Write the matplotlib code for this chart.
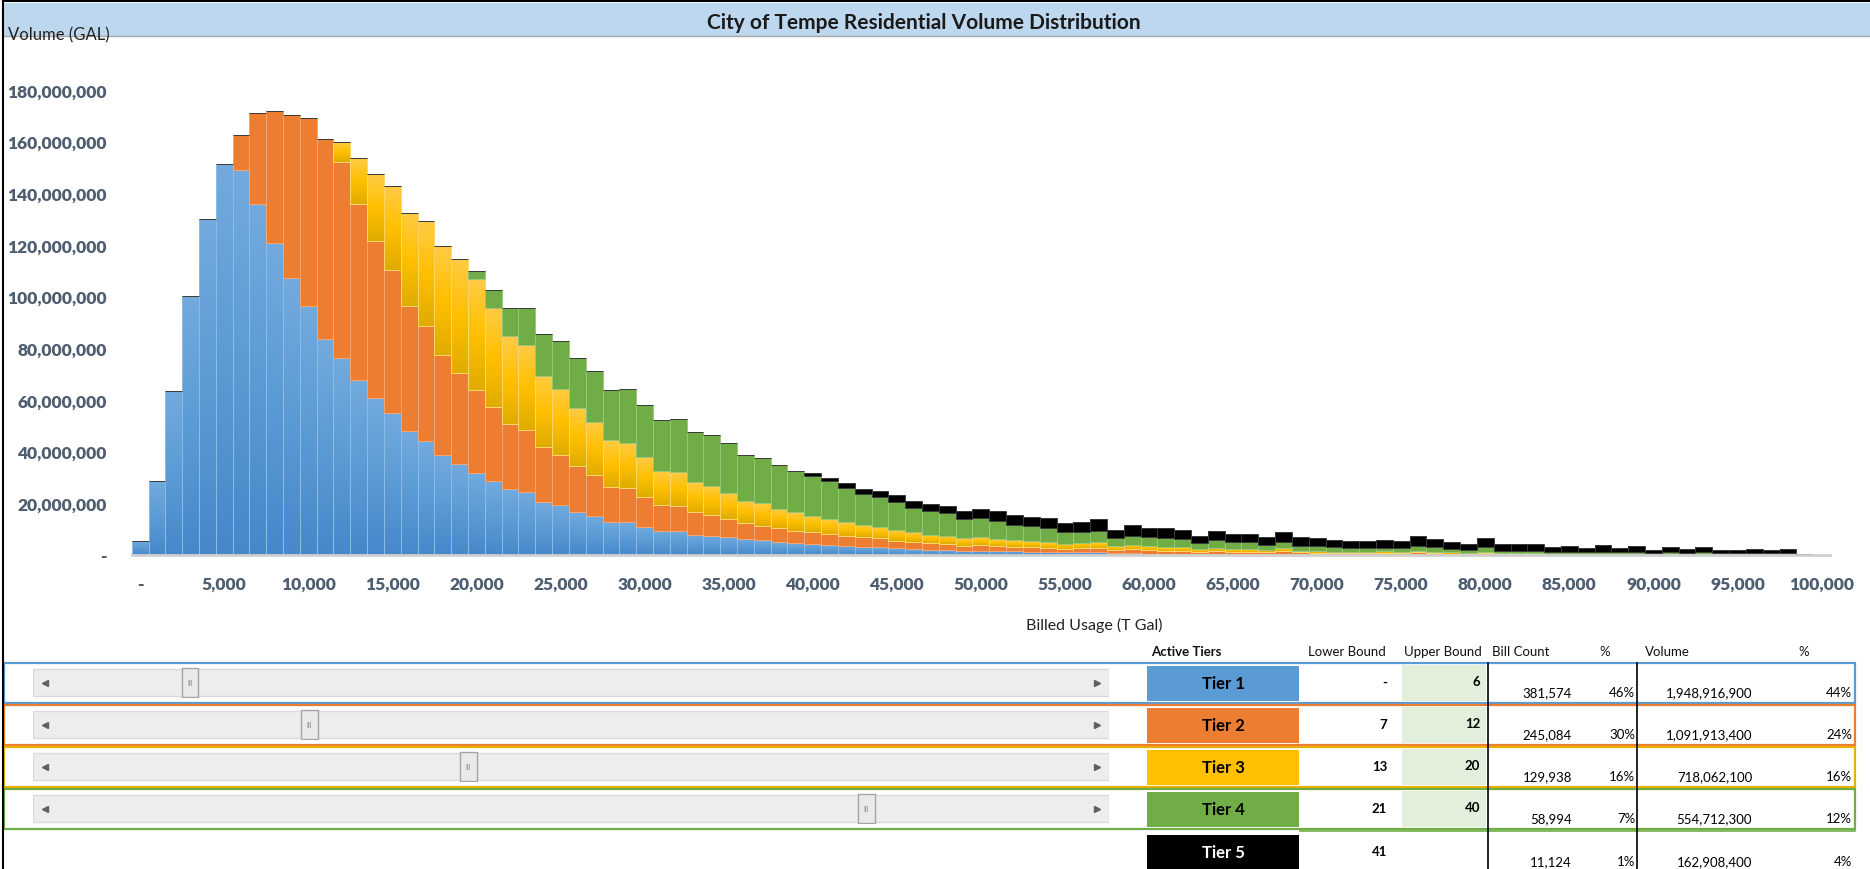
import matplotlib.pyplot as plt
from matplotlib.patches import Rectangle
from matplotlib.colors import LinearSegmentedColormap
import numpy as np

plt.rcParams['font.family'] = ['Lato', 'DejaVu Sans']

# usage bins, thousand gallons
bins = list(range(101))

# billed volume per bin split by tier, millions of gallons
tier1 = [5.6, 28.5, 63.3, 100.1, 130.0, 151.1, 148.9, 135.8, 120.7, 107.1,
         96.3, 83.4, 76.2, 67.8, 60.7, 55.1, 47.9, 44.1, 38.7, 35.3,
         31.8, 28.6, 25.4, 24.5, 20.6, 19.5, 16.7, 15.2, 12.9, 12.6,
         11.0, 9.4, 9.4, 7.9, 7.5, 6.8, 6.2, 5.8, 4.9, 4.5,
         4.3, 3.9, 3.6, 3.2, 3.0, 2.7, 2.3, 2.1, 1.9, 1.7,
         1.7, 1.5, 1.4, 1.3, 1.2, 1.0, 1.0, 1.0, 0.6, 0.6,
         0.5, 0.5, 0.4, 0.4, 0.4, 0.3, 0.3, 0.3, 0.3, 0.3,
         0.3, 0.1, 0.1, 0.1, 0.1, 0.1, 0.2, 0.1, 0.1, 0.1,
         0.1, 0.1, 0, 0, 0, 0, 0, 0, 0, 0,
         0, 0, 0, 0, 0, 0, 0, 0, 0, 0,
         0]
tier2 = [0, 0, 0, 0, 0, 0, 13.5, 35.0, 51.1, 63.2,
         72.6, 77.5, 76.0, 68.0, 60.9, 55.2, 48.4, 44.3, 38.5, 35.1,
         31.9, 28.5, 25.4, 23.9, 21.0, 19.1, 17.8, 15.7, 13.5, 13.2,
         11.6, 10.1, 9.4, 8.6, 8.0, 7.1, 6.2, 5.6, 5.6, 4.9,
         4.7, 4.2, 3.9, 3.6, 3.5, 2.8, 2.9, 2.5, 2.4, 1.9,
         2.3, 2.1, 1.8, 1.7, 1.5, 1.3, 1.6, 1.8, 1.5, 1.7,
         1.4, 1.2, 1.1, 0.9, 1.0, 1.0, 1.0, 0.7, 1.2, 0.7,
         0.6, 0.7, 0.7, 0.5, 0.7, 0.5, 0.8, 0.7, 0.4, 0.4,
         0.7, 0.3, 0.4, 0.4, 0.3, 0.3, 0.2, 0.3, 0.2, 0.3,
         0.2, 0.2, 0.2, 0.2, 0.1, 0.1, 0.1, 0.1, 0.1, 0,
         0]
tier3 = [0, 0, 0, 0, 0, 0, 0, 0, 0, 0,
         0, 0, 7.4, 17.7, 25.8, 32.3, 36.1, 40.9, 42.2, 44.1,
         42.9, 38.4, 33.9, 32.9, 27.6, 25.8, 22.5, 20.7, 18.1, 17.4,
         15.2, 13.1, 13.2, 11.6, 11.1, 10.1, 8.6, 8.6, 7.3, 7.1,
         6.2, 5.8, 5.1, 4.8, 4.2, 4.2, 3.6, 3.3, 3.2, 3.0,
         2.8, 2.6, 2.6, 2.3, 2.2, 2.0, 2.1, 2.1, 1.5, 1.6,
         1.5, 1.5, 1.5, 1.0, 1.2, 1.0, 1.0, 0.9, 1.1, 0.7,
         0.6, 0.5, 0.5, 0.6, 0.6, 0.6, 0.7, 0.5, 0.5, 0.4,
         0.4, 0.4, 0.4, 0.3, 0.2, 0.2, 0.2, 0.2, 0.2, 0.2,
         0.2, 0.2, 0.1, 0.2, 0.2, 0.2, 0.2, 0.2, 0.2, 0,
         0]
tier4 = [0, 0, 0, 0, 0, 0, 0, 0, 0, 0,
         0, 0, 0, 0, 0, 0, 0, 0, 0, 0,
         3.1, 7.2, 10.9, 14.3, 16.1, 18.2, 19.2, 19.4, 19.4, 21.0,
         20.3, 19.7, 20.6, 19.4, 19.8, 19.2, 17.7, 17.5, 17.0, 15.9,
         15.5, 14.9, 13.2, 12.0, 11.9, 10.7, 9.4, 9.0, 8.6, 7.3,
         7.4, 6.8, 5.8, 5.8, 5.4, 4.5, 4.3, 4.4, 2.9, 3.6,
         3.4, 3.3, 3.2, 2.3, 3.3, 2.6, 2.6, 2.0, 2.3, 1.9,
         1.9, 1.7, 1.4, 1.4, 1.4, 1.5, 1.9, 1.7, 1.3, 1.0,
         1.8, 0.9, 0.9, 0.8, 0.7, 0.7, 0.6, 0.7, 0.6, 0.7,
         0.4, 0.6, 0.5, 0.6, 0.4, 0.4, 0.4, 0.4, 0.5, 0.1,
         0]
tier5 = [0, 0, 0, 0, 0, 0, 0, 0, 0, 0,
         0, 0, 0, 0, 0, 0, 0, 0, 0, 0,
         0, 0, 0, 0, 0, 0, 0, 0, 0, 0,
         0, 0, 0, 0, 0, 0, 0, 0, 0, 0,
         0.9, 1.1, 1.9, 1.9, 2.3, 3.0, 2.8, 2.8, 3.0, 3.3,
         3.6, 4.2, 4.0, 3.7, 3.9, 3.7, 3.6, 4.6, 3.3, 4.1,
         3.8, 3.8, 3.6, 2.9, 3.5, 3.2, 3.2, 2.9, 4.1, 3.2,
         3.1, 2.8, 2.7, 2.8, 3.0, 2.7, 3.6, 3.2, 2.6, 2.4,
         3.5, 2.4, 2.4, 2.6, 2.0, 2.4, 1.7, 2.7, 1.8, 2.4,
         1.1, 2.2, 1.5, 2.2, 1.2, 1.1, 1.6, 1.4, 1.5, 0.4,
         0]

# tier table
tier_names = ['Tier 1', 'Tier 2', 'Tier 3', 'Tier 4', 'Tier 5']
lower_bounds = ['-', '7', '13', '21', '41']
upper_bounds = [6, 12, 20, 40]
bill_counts = ['381,574', '245,084', '129,938', '58,994', '11,124']
bill_pct = ['46%', '30%', '16%', '7%', '1%']
volumes = ['1,948,916,900', '1,091,913,400', '718,062,100', '554,712,300', '162,908,400']
volume_pct = ['44%', '24%', '16%', '12%', '4%']

colors = ['#5B9BD5', '#ED7D31', '#FFC000', '#70AD47', '#000000']
edge_colors = ['#8DBBE6', '#F4A573', '#FFD766', '#98C67A', '#3A3A3A']
# gradient stops (bottom -> top) for the shaded series, None = flat fill
gradients = [['#4688CA', '#5B9BD5', '#72AADE'], None,
             ['#E0AC00', '#FFC000', '#FFCB45'], None, None]
tick_color = '#4E5D70'

W, H = 1870, 870
fig = plt.figure(figsize=(W / 100, H / 100), dpi=100)

# background layer in pixel coordinates
bg = fig.add_axes([0, 0, 1, 1])
bg.set_xlim(0, W)
bg.set_ylim(H, 0)
bg.axis('off')

bg.add_patch(Rectangle((4, 4), W - 4, 33, fc='#BDD7EE', ec='none'))
bg.plot([4, W], [37, 37], color='#A9A9A9', lw=1)
bg.plot([3, W], [2, 2], color='black', lw=1.5)
bg.plot([3, 3], [2, H], color='black', lw=1.5)
bg.text(924, 23, 'City of Tempe Residential Volume Distribution', ha='center', va='center',
        fontsize=15, fontweight='bold', color='#1A1A1A')
bg.text(8, 35, 'Volume (GAL)', ha='left', va='center', fontsize=12, color='#222222')
bg.text(1094, 625, 'Billed Usage (T Gal)', ha='center', va='center', fontsize=11.5,
        color='#222222')

# chart
x0, x1, y0, y1 = 131.7, 1830, 556, 90.7
ax = fig.add_axes([x0 / W, (H - y0) / H, (x1 - x0) / W, (y0 - y1) / H])
ax.patch.set_alpha(0)
bottom = np.zeros(len(bins))
for vals, c, ec, grad in zip([tier1, tier2, tier3, tier4, tier5], colors, edge_colors, gradients):
    v = np.array(vals) * 1e6
    bars = ax.bar(bins, v, width=1.0, bottom=bottom, color=c, edgecolor='none', zorder=2)
    if grad is not None:
        cmap = LinearSegmentedColormap.from_list('g', grad)
        ramp = np.linspace(1, 0, 64).reshape(-1, 1)
        for p in bars:
            h = p.get_height()
            if h <= 0:
                continue
            bx, by = p.get_xy()
            im = ax.imshow(ramp, extent=[bx, bx + p.get_width(), by, by + h], aspect='auto',
                           cmap=cmap, vmin=0, vmax=1, origin='upper', zorder=2.05,
                           interpolation='bilinear')
            im.set_clip_path(p)
    ax.bar(bins, v, width=1.0, bottom=bottom, fill=False, edgecolor=ec, linewidth=0.7,
           zorder=2.1)
    bottom += v

ax.set_xlim(-0.5, 100.5)
ax.set_ylim(0, 180e6)
xt = list(range(0, 101, 5))
ax.set_xticks(xt)
ax.set_xticklabels(['-' if t == 0 else '{:,}'.format(t * 1000) for t in xt])
yt = np.arange(0, 181e6, 20e6)
ax.set_yticks(yt)
ax.set_yticklabels(['-' if t == 0 else '{:,.0f}'.format(t) for t in yt])
ax.tick_params(length=0, labelsize=12.5, labelcolor=tick_color)
ax.tick_params(axis='y', pad=18)
ax.tick_params(axis='x', pad=15)
for lab in ax.get_xticklabels() + ax.get_yticklabels():
    lab.set_fontweight('heavy')
for s in ['top', 'right', 'left']:
    ax.spines[s].set_visible(False)
ax.spines['bottom'].set_color('#D0D0D0')
ax.spines['bottom'].set_linewidth(2)
ax.spines['bottom'].set_zorder(3)

# tier table
row_top = [664, 706, 748, 790, 833]
row_h = 40
outline = ['#5B9BD5', '#ED7D31', '#E8B000', '#70AD47']
headers = [('Active Tiers', 1151, 'left', 'bold'), ('Lower Bound', 1308, 'left', 'normal'),
           ('Upper Bound', 1404, 'left', 'normal'), ('Bill Count', 1492, 'left', 'normal'),
           ('%', 1605, 'center', 'normal'), ('Volume', 1645, 'left', 'normal'),
           ('%', 1804, 'center', 'normal')]
for txt, hx, ha, fw in headers:
    bg.text(hx, 652, txt, ha=ha, va='center', fontsize=9.5, fontweight=fw, color='#111111')

for i in range(5):
    t = row_top[i]
    h = row_h if i < 4 else H - t
    if i < 4:
        bg.add_patch(Rectangle((4, t), 1851, h, fc='none', ec=outline[i], lw=1.6))
        bg.add_patch(Rectangle((1402, t + 2), 84, h - 4, fc='#E2EFDA', ec='none'))
        bg.text(1480, t + 18, str(upper_bounds[i]), ha='right', va='center',
                fontsize=9.5, fontweight='bold')
    else:
        bg.plot([1300, 1855], [t - 1, t - 1], color='#70AD47', lw=1.2)
    bg.add_patch(Rectangle((1147, t + 3), 152, h - 3 if i == 4 else h - 5, fc=colors[i],
                           ec='none'))
    bg.text(1223, t + 20, tier_names[i], ha='center', va='center', fontsize=12,
            fontweight='bold', color='white' if i == 4 else 'black')
    bg.text(1387, t + 19, lower_bounds[i], ha='right', va='center', fontsize=9.5,
            fontweight='bold')
    bg.text(1572, t + 29, bill_counts[i], ha='right', va='center', fontsize=9.5)
    bg.text(1635, t + 29, bill_pct[i], ha='right', va='center', fontsize=9.5)
    bg.text(1752, t + 29, volumes[i], ha='right', va='center', fontsize=9.5)
    bg.text(1852, t + 29, volume_pct[i], ha='right', va='center', fontsize=9.5)
bg.plot([1488, 1488], [664, H], color='black', lw=1.2)
bg.plot([1637, 1637], [664, H], color='black', lw=1.2)

# scroll bars for the tier upper bounds
for i, ub in enumerate(upper_bounds):
    t = row_top[i] + 4
    sax = fig.add_axes([33 / W, (H - t - 31) / H, (1109 - 33) / W, 31 / H])
    sax.set_xlim(-1.9, 52.2)
    sax.set_ylim(0, 1)
    sax.axis('off')
    sax.add_patch(Rectangle((-1.9, 0.08), 54.1, 0.84, fc='#EDEDED', ec='#DADADA', lw=1))
    sax.plot([-1.3], [0.5], marker='<', ms=4, color='#606060')
    sax.plot([51.6], [0.5], marker='>', ms=4, color='#606060')
    sax.add_patch(Rectangle((ub - 0.42, 0.02), 0.84, 0.96, fc='#EAEAEA', ec='#A4A4A4', lw=1))
    sax.text(ub, 0.5, 'III', ha='center', va='center', fontsize=5, color='#8A8A8A')

fig.savefig('out.png', dpi=100)
